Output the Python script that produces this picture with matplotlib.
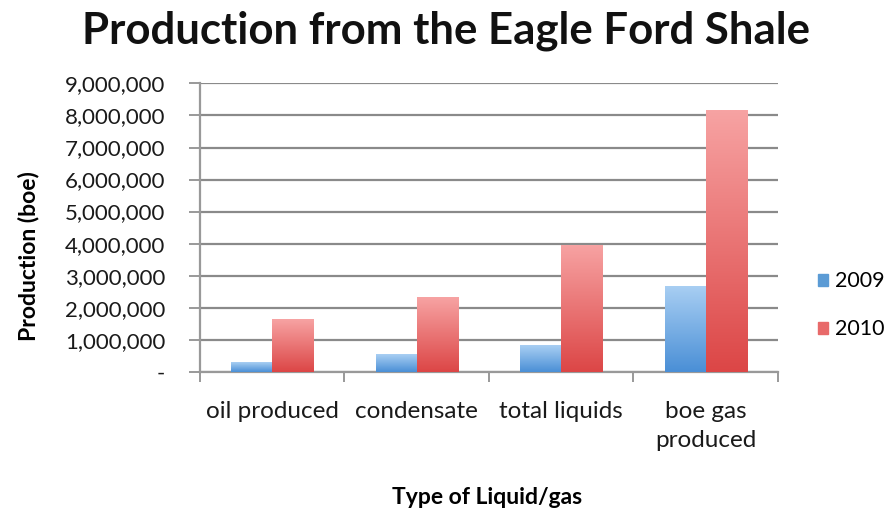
import numpy as np
import matplotlib
matplotlib.use('Agg')
import matplotlib.pyplot as plt
from matplotlib.colors import LinearSegmentedColormap
from matplotlib.ticker import FuncFormatter

categories = ['oil produced', 'condensate', 'total liquids', 'boe gas\nproduced']
years = ['2009', '2010']
prod_2009 = [310000, 540000, 820000, 2690000]
prod_2010 = [1640000, 2320000, 3970000, 8180000]

plt.rcParams['font.family'] = ['Lato', 'DejaVu Sans']

fig = plt.figure(figsize=(8.96, 5.12), dpi=100)
ax = fig.add_axes([0.2232, 0.274, 0.6451, 0.563])

x = np.arange(len(categories))
w = 0.285
blue_cmap = LinearSegmentedColormap.from_list('b', ['#4a8fd6', '#a9cff3'])
red_cmap = LinearSegmentedColormap.from_list('r', ['#dc4646', '#f7a3a3'])

bars1 = ax.bar(x - w / 2, prod_2009, w, color='#5b9bd5', label=years[0], zorder=3)
bars2 = ax.bar(x + w / 2, prod_2010, w, color='#e05a5a', label=years[1], zorder=3)

# vertical gradient fill clipped to each bar
grad = np.linspace(0, 1, 256).reshape(-1, 1)
for bars, cmap in ((bars1, blue_cmap), (bars2, red_cmap)):
    for b in bars:
        b.set_facecolor('none')
        b.set_edgecolor('none')
        x0, y0 = b.get_x(), b.get_y()
        im = ax.imshow(grad, cmap=cmap, origin='lower', aspect='auto',
                       extent=[x0, x0 + b.get_width(), y0, y0 + b.get_height()],
                       zorder=3)
        im.set_clip_path(b)

ax.set_xlim(-0.5, len(categories) - 0.5)
ax.set_ylim(0, 9000000)
ax.set_yticks(np.arange(0, 9000001, 1000000))
ax.yaxis.set_major_formatter(FuncFormatter(lambda v, p: '-' if v == 0 else f'{int(v):,}'))
ax.yaxis.grid(True, color='#8a8a8a', linewidth=1.6, zorder=0)
ax.set_axisbelow(True)

ax.set_xticks(x)
ax.set_xticklabels(categories, fontsize=17.5, color='#1a1a1a', linespacing=1.5)
ax.set_xticks(np.arange(-0.5, len(categories), 1), minor=True)
ax.tick_params(axis='x', which='major', length=0, pad=21)
ax.tick_params(axis='x', which='minor', length=7, width=1.4, color='#999999')
ax.tick_params(axis='y', length=8, width=1.4, color='#999999', labelsize=16,
               labelcolor='#1a1a1a', pad=17)

for s in ['top', 'right']:
    ax.spines[s].set_visible(False)
for s in ['left', 'bottom']:
    ax.spines[s].set_color('#999999')
    ax.spines[s].set_linewidth(1.6)

ax.set_ylabel('Production (boe)', fontsize=16.5, fontweight='bold')
ax.yaxis.set_label_coords(-0.278, 0.40)
ax.set_xlabel('Type of Liquid/gas', fontsize=16.5, fontweight='bold')
ax.xaxis.set_label_coords(0.497, -0.40)

fig.text(0.498, 0.94, 'Production from the Eagle Ford Shale', ha='center', va='center',
         fontsize=31.5, fontweight='bold', color='#111111')

handles = [plt.Rectangle((0, 0), 1, 1, color='#5b9bd5'),
           plt.Rectangle((0, 0), 1, 1, color='#e86a6a')]
ax.legend(handles, years, loc='center left', bbox_to_anchor=(1.035, 0.23),
          frameon=False, fontsize=15.5, handlelength=0.5, handleheight=0.5,
          handletextpad=0.3, labelspacing=1.3)

fig.savefig('out.png', dpi=100)
